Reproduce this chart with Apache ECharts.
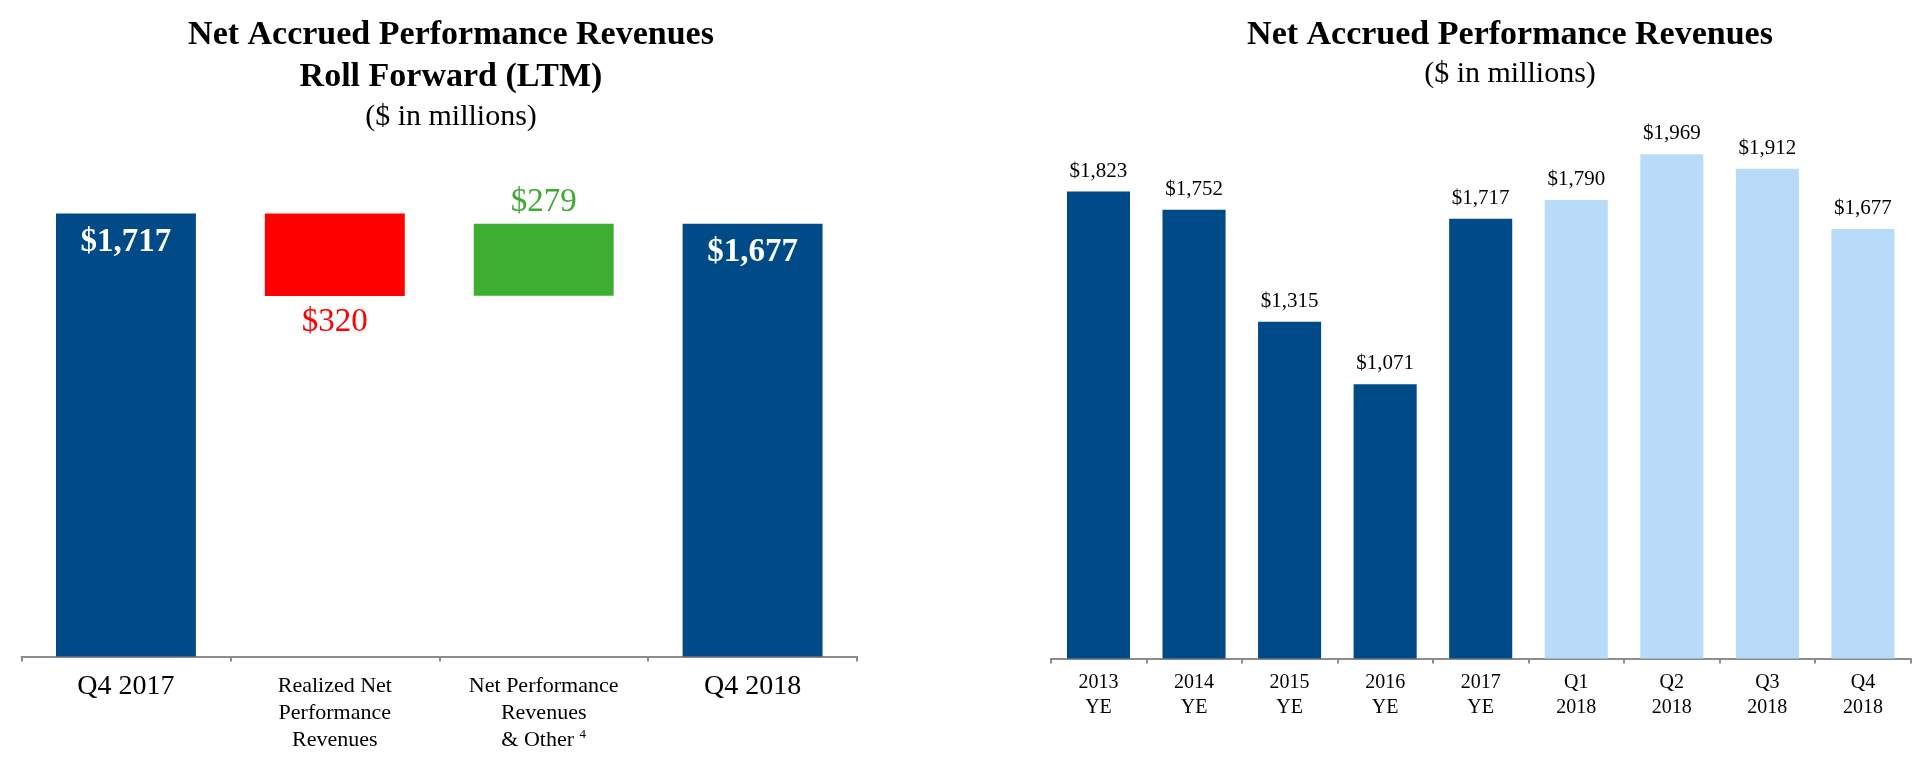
<!DOCTYPE html>
<html>
<head>
<meta charset="utf-8">
<script src="https://cdn.jsdelivr.net/npm/echarts@6/dist/echarts.min.js"></script>
<style>
html,body{margin:0;padding:0;background:#fff;}
#c{width:1923px;height:771px;}
</style>
</head>
<body>
<div id="c"></div>
<script>
// ---- Left chart: roll forward (waterfall) ----
const rollCategories = ['Q4 2017', 'Realized Net\nPerformance\nRevenues', 'Net Performance\nRevenues\n& Other ', 'Q4 2018'];
const rollStart = 1717;
const rollRealized = -320;
const rollNetPerf = 279;
const rollEnd = 1677;

// ---- Right chart: history ----
const histCategories = ['2013\nYE', '2014\nYE', '2015\nYE', '2016\nYE', '2017\nYE', 'Q1\n2018', 'Q2\n2018', 'Q3\n2018', 'Q4\n2018'];
const histValues = [1823, 1752, 1315, 1071, 1717, 1790, 1969, 1912, 1677];

const DARK = '#004A87';
const LIGHT = '#B7DBF8';
const RED = '#FF0000';
const GREEN = '#3DAE2F';
const GREEN_TXT = '#3FAA33';
const FONT = "'Liberation Serif', 'Times New Roman', serif";

function money(v) { return '$' + Math.abs(v).toLocaleString('en-US'); }

const chart = echarts.init(document.getElementById('c'), null, {renderer: 'canvas'});

// waterfall bases
const redBase = rollStart + rollRealized;
const greenBase = rollEnd - rollNetPerf;
const baseData = [0, redBase, greenBase, 0];
const bigLabel = {show: true, position: 'insideTop', distance: 12, color: '#fff', fontWeight: 'bold', fontSize: 33, fontFamily: FONT, formatter: p => money(p.value)};
const valueData = [
  {value: rollStart, itemStyle: {color: DARK}, label: bigLabel},
  {value: Math.abs(rollRealized), itemStyle: {color: RED}, label: {show: true, position: 'bottom', distance: 10, color: RED, fontSize: 33, fontFamily: FONT, formatter: () => money(rollRealized)}},
  {value: rollNetPerf, itemStyle: {color: GREEN}, label: {show: true, position: 'top', distance: 5, color: GREEN_TXT, fontSize: 33, fontFamily: FONT, formatter: () => money(rollNetPerf)}},
  {value: rollEnd, itemStyle: {color: DARK}, label: bigLabel}
];

const axisLineStyle = {show: true, lineStyle: {color: '#8C8C8C', width: 2}};
const axisTickStyle = {show: true, length: 5, lineStyle: {color: '#8C8C8C', width: 2}};

function titleItem(text, x, top, size, bold) {
  return {text: text, left: x, top: top, textAlign: 'center', padding: 0,
    textStyle: {fontFamily: FONT, fontSize: size, fontWeight: bold ? 'bold' : 'normal', color: '#000', lineHeight: size + 6}};
}

chart.setOption({
  animation: false,
  backgroundColor: '#fff',
  title: [
    titleItem('Net Accrued Performance Revenues', 451, 15, 34, true),
    titleItem('Roll Forward (LTM)', 451, 57, 34, true),
    titleItem('($ in millions)', 451, 99, 30, false),
    titleItem('Net Accrued Performance Revenues', 1510, 15, 34, true),
    titleItem('($ in millions)', 1510, 56, 30, false)
  ],
  grid: [
    {left: 21.5, width: 835.5, top: 140.5, bottom: 114.5},
    {left: 1050.7, width: 860, top: 146.2, bottom: 112.4}
  ],
  xAxis: [
    {type: 'category', gridIndex: 0, data: rollCategories,
      axisLine: axisLineStyle, axisTick: axisTickStyle,
      axisLabel: {margin: 16, interval: 0, fontFamily: FONT, color: '#000',
        formatter: function (v) {
          if (v.indexOf('\n') < 0) return '{big|' + v + '}';
          const lines = v.split('\n').map(l => '{small|' + l + '}');
          if (v.indexOf('& Other') >= 0) lines[lines.length - 1] += '{sup|4}';
          return lines.join('\n');
        },
        rich: {
          big: {fontSize: 28, lineHeight: 28, fontFamily: FONT, color: '#000'},
          small: {fontSize: 22, lineHeight: 27, fontFamily: FONT, color: '#000'},
          sup: {fontSize: 13, lineHeight: 14, verticalAlign: 'top', fontFamily: FONT, color: '#000', padding: [2, 0, 0, 0]}
        }}},
    {type: 'category', gridIndex: 1, data: histCategories,
      axisLine: axisLineStyle, axisTick: axisTickStyle,
      axisLabel: {margin: 12, interval: 0, fontFamily: FONT, fontSize: 20, lineHeight: 25, color: '#000'}}
  ],
  yAxis: [
    {type: 'value', gridIndex: 0, min: 0, max: 2000, show: false, splitLine: {show: false}},
    {type: 'value', gridIndex: 1, min: 0, max: 2000, show: false, splitLine: {show: false}}
  ],
  series: [
    {type: 'bar', xAxisIndex: 0, yAxisIndex: 0, stack: 'wf', barWidth: '67%', silent: true,
      itemStyle: {color: 'rgba(0,0,0,0)'}, data: baseData},
    {type: 'bar', xAxisIndex: 0, yAxisIndex: 0, stack: 'wf', barWidth: '67%', data: valueData},
    {type: 'bar', xAxisIndex: 1, yAxisIndex: 1, barWidth: '66%',
      data: histValues.map((v, i) => ({value: v, itemStyle: {color: histCategories[i].indexOf('YE') >= 0 ? DARK : LIGHT}})),
      label: {show: true, position: 'top', distance: 10, fontFamily: FONT, fontSize: 21, color: '#000', formatter: p => money(p.value)}}
  ]
});
</script>
</body>
</html>
